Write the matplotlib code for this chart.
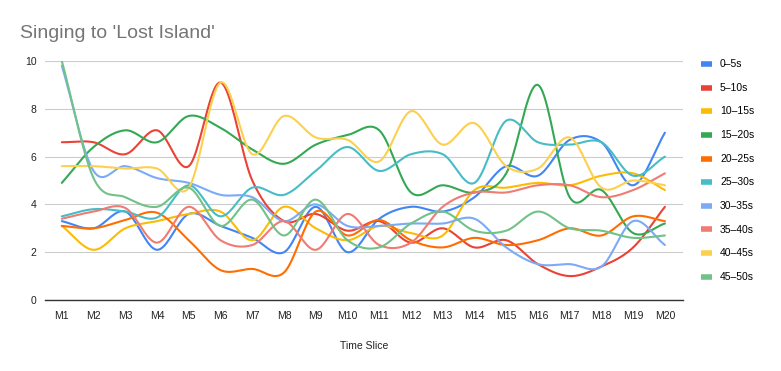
import numpy as np
import matplotlib.pyplot as plt

# Time slices and the average score per 5-second segment
slices = ['M%d' % i for i in range(1, 21)]
segments = ['0–5s', '5–10s', '10–15s', '15–20s', '20–25s',
            '25–30s', '30–35s', '35–40s', '40–45s', '45–50s']

s0_5 = [3.3, 3.0, 3.7, 2.1, 3.6, 3.1, 2.6, 2.0, 3.9, 2.0, 3.4, 3.9, 3.7, 4.3, 5.6, 5.2, 6.7, 6.6, 4.8, 7.0]
s5_10 = [6.6, 6.6, 6.1, 7.1, 5.6, 9.1, 5.0, 3.3, 3.6, 2.9, 3.3, 2.4, 3.0, 2.2, 2.5, 1.5, 1.0, 1.4, 2.2, 3.9]
s10_15 = [3.1, 2.1, 3.0, 3.3, 3.6, 3.7, 2.5, 3.9, 3.0, 2.5, 3.1, 2.8, 2.7, 4.6, 4.7, 4.9, 4.8, 5.2, 5.3, 4.6]
s15_20 = [4.9, 6.4, 7.1, 6.6, 7.7, 7.2, 6.3, 5.7, 6.5, 6.9, 7.1, 4.5, 4.8, 4.5, 5.3, 9.0, 4.3, 4.6, 2.8, 3.2]
s20_25 = [3.1, 3.0, 3.35, 3.65, 2.5, 1.25, 1.3, 1.15, 3.7, 2.7, 3.35, 2.5, 2.2, 2.6, 2.3, 2.5, 3.0, 2.7, 3.5, 3.3]
s25_30 = [3.5, 3.8, 3.7, 3.45, 4.8, 3.5, 4.7, 4.4, 5.4, 6.4, 5.4, 6.1, 6.1, 4.9, 7.5, 6.6, 6.5, 6.6, 5.2, 6.0]
s30_35 = [9.8, 5.4, 5.6, 5.1, 4.9, 4.4, 4.3, 3.3, 4.0, 3.1, 3.1, 3.2, 3.2, 3.4, 2.2, 1.5, 1.5, 1.4, 3.3, 2.3]
s35_40 = [3.4, 3.7, 3.85, 2.4, 3.9, 2.5, 2.3, 3.3, 2.1, 3.6, 2.3, 2.4, 3.9, 4.5, 4.5, 4.8, 4.8, 4.3, 4.6, 5.3]
s40_45 = [5.6, 5.6, 5.5, 5.5, 4.7, 9.1, 6.1, 7.7, 6.8, 6.7, 5.8, 7.9, 6.5, 7.4, 5.6, 5.5, 6.8, 4.7, 5.0, 4.8]
s45_50 = [10.0, 5.1, 4.3, 3.9, 4.7, 3.1, 4.2, 2.7, 4.2, 2.5, 2.2, 3.2, 3.7, 2.9, 2.9, 3.7, 3.0, 2.9, 2.6, 2.7]

series = [s0_5, s5_10, s10_15, s15_20, s20_25, s25_30, s30_35, s35_40, s40_45, s45_50]
colors = ['#4285F4', '#EA4335', '#FBBC04', '#34A853', '#FF6D01',
          '#46BDC6', '#7BAAF7', '#F07B72', '#FCD04F', '#71C287']


def smooth(y, n=20):
    # cubic hermite with catmull-rom tangents
    y = np.asarray(y, dtype=float)
    x = np.arange(len(y))
    m = np.zeros_like(y)
    m[1:-1] = (y[2:] - y[:-2]) / 2
    m[0] = y[1] - y[0]
    m[-1] = y[-1] - y[-2]
    xs, ys = [], []
    for i in range(len(y) - 1):
        t = np.linspace(0, 1, n, endpoint=False)
        h00 = 2*t**3 - 3*t**2 + 1
        h10 = t**3 - 2*t**2 + t
        h01 = -2*t**3 + 3*t**2
        h11 = t**3 - t**2
        xs.append(x[i] + t)
        ys.append(h00*y[i] + h10*m[i] + h01*y[i+1] + h11*m[i+1])
    xs.append([x[-1]])
    ys.append([y[-1]])
    return np.concatenate(xs), np.concatenate(ys)


plt.rcParams['font.family'] = ['Liberation Sans', 'DejaVu Sans']

fig = plt.figure(figsize=(7.81, 3.71), dpi=100)
ax = fig.add_axes([45/781, 1 - 300/371, (683-45)/781, (300-61)/371])

for vals, c, lab in zip(series, colors, segments):
    xs, ys = smooth(vals)
    ax.plot(xs, ys, color=c, lw=1.5, label=lab, solid_capstyle='round')

ax.set_xlim(-0.53, 19.57)
ax.set_ylim(0, 10)
ax.set_yticks([0, 2, 4, 6, 8, 10])
ax.set_xticks(range(len(slices)))
ax.set_xticklabels(slices)
ax.grid(axis='y', color='#cccccc', lw=0.8)
ax.set_axisbelow(True)
for s in ['top', 'right', 'left']:
    ax.spines[s].set_visible(False)
ax.spines['bottom'].set_color('#333333')
ax.spines['bottom'].set_linewidth(1.0)
ax.tick_params(length=0, labelsize=7.5, colors='#222222', pad=8)
ax.tick_params(axis='y', pad=6)
ax.set_xlabel('Time Slice', fontsize=7.5, color='#222222', labelpad=14)

fig.text(20/781, 1 - 33/371, "Singing to 'Lost Island'", fontsize=14,
         color='#757575', va='center', ha='left')

leg = ax.legend(loc='upper left', bbox_to_anchor=(1.014, 1.047),
                frameon=False, fontsize=7.5, handlelength=1.0, handleheight=0.4,
                labelspacing=1.31, handletextpad=0.8)
for h in leg.get_lines():
    h.set_linewidth(4)
    h.set_solid_capstyle('butt')

fig.savefig('out.png', dpi=100)
